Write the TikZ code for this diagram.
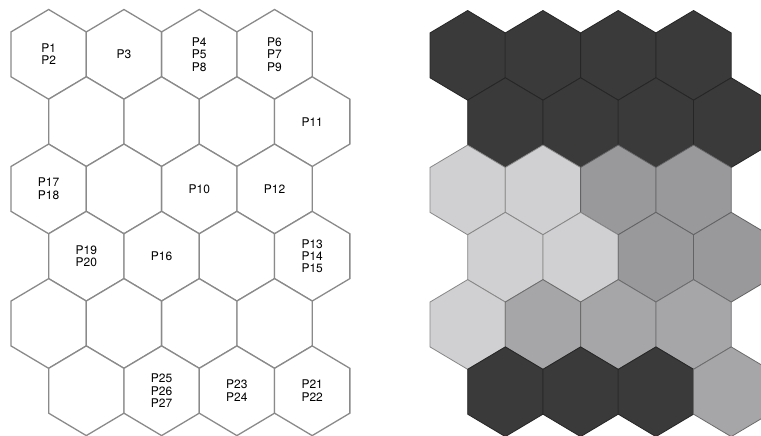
\documentclass[tikz,border=0pt]{standalone}
\usepackage{fontspec}
\setmainfont{TeX Gyre Heros}
\definecolor{darkc}{HTML}{3A3A3A}
\definecolor{lightc}{HTML}{D0D0D2}
\definecolor{medA}{HTML}{99999B}
\definecolor{medB}{HTML}{A6A6A8}
\definecolor{gridline}{HTML}{8A8A8A}
\tikzset{
  lbl/.style={align=center, font=\fontsize{12}{12.4}\selectfont, inner sep=0pt},
  hexleft/.style={draw=gridline, line width=1.3pt, line join=miter, fill=white},
}
\newcommand\hexcell[3]{% options, cx, cy
  \draw[#1] (#2,#3) ++(0,-44.85) -- ++(37.65,22.43) -- ++(0,44.85) -- ++(-37.65,22.43)
    -- ++(-37.65,-22.43) -- ++(0,-44.85) -- cycle;}
\begin{document}
\begin{tikzpicture}[x=1pt,y=-1pt]
\useasboundingbox[fill=white] (0,0) rectangle (761,436);
% left grid
\foreach \r in {0,...,5}{
  \foreach \c in {0,...,3}{
    \pgfmathsetmacro\cx{48.65+75.3*\c+37.65*mod(\r,2)}
    \pgfmathsetmacro\cy{54.35+67.28*\r}
    \hexcell{hexleft}{\cx}{\cy}
    \coordinate (L-\r-\c) at (\cx,\cy);
  }
}
% right grid
\foreach \r/\cols in {0/{darkc,darkc,darkc,darkc},1/{darkc,darkc,darkc,darkc},
  2/{lightc,lightc,medA,medA},3/{lightc,lightc,medA,medA},
  4/{lightc,medB,medB,medB},5/{darkc,darkc,darkc,medB}}{
  \foreach \k [count=\c from 0] in \cols {
    \pgfmathsetmacro\cx{467.65+75.3*\c+37.65*mod(\r,2)}
    \pgfmathsetmacro\cy{55.35+67.28*\r}
    \hexcell{fill=\k, draw=\k!65!black, line width=0.8pt}{\cx}{\cy}
  }
}
% labels
\node[lbl] (t1)  at (L-0-0) {P1\\P2};
\node[lbl] (t3)  at (L-0-1) {P3};
\node[lbl] (t4)  at (L-0-2) {P4\\P5\\P8};
\node[lbl] (t6)  at (L-0-3) {P6\\P7\\P9};
\node[lbl] (t11) at (L-1-3) {P11};
\node[lbl] (t17) at (L-2-0) {P17\\P18};
\node[lbl] (t10) at (L-2-2) {P10};
\node[lbl] (t12) at (L-2-3) {P12};
\node[lbl] (t19) at (L-3-0) {P19\\P20};
\node[lbl] (t16) at (L-3-1) {P16};
\node[lbl] (t13) at (L-3-3) {P13\\P14\\P15};
\node[lbl] (t25) at (L-5-1) {P25\\P26\\P27};
\node[lbl] (t23) at (L-5-2) {P23\\P24};
\node[lbl] (t21) at (L-5-3) {P21\\P22};
\end{tikzpicture}
\end{document}
